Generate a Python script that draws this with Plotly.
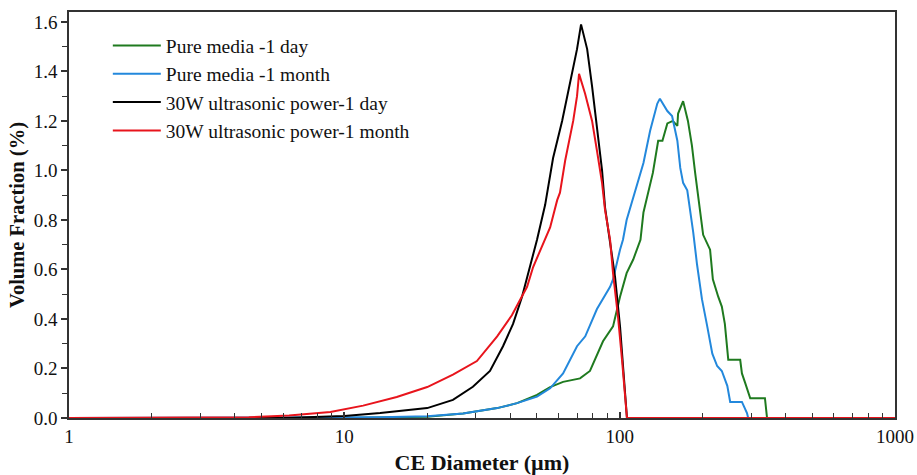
import plotly.graph_objects as go

# Particle size distributions (CE diameter in µm, volume fraction in %)
pure_day_d = [1, 10, 20, 27, 35.9, 42.4, 50.1, 55.9, 62.3, 71.8, 78, 87, 94.6, 100.3,
              106, 112, 119, 122, 132, 138, 143, 149, 156, 162, 163, 170, 177, 183,
              188, 193, 201, 213, 218, 228, 235, 241, 248, 274, 278, 286, 298, 337,
              343, 1000]
pure_day_v = [0, 0, 0.005, 0.018, 0.04, 0.06, 0.093, 0.125, 0.146, 0.16, 0.19, 0.31, 0.37, 0.49,
              0.585, 0.64, 0.72, 0.83, 0.99, 1.12, 1.12, 1.19, 1.20, 1.18, 1.23, 1.28, 1.20, 1.10,
              0.99, 0.89, 0.74, 0.68, 0.56, 0.49, 0.45, 0.38, 0.235, 0.235, 0.18, 0.14, 0.08, 0.08,
              0, 0]

pure_month_d = [1, 10, 13.5, 20, 27, 35.9, 42.4, 50.1, 55.9, 62.3, 70, 75, 80, 82.7, 92.3,
                94.6, 100.3, 102.8, 106, 112, 122, 129, 137, 140, 149, 155, 162, 166, 170,
                176, 180, 185, 191, 199, 208, 217, 226, 235, 246, 252, 278, 290, 293, 1000]
pure_month_v = [0, 0, 0.003, 0.007, 0.018, 0.04, 0.06, 0.086, 0.12, 0.18, 0.29, 0.33, 0.40, 0.44, 0.53,
                0.56, 0.68, 0.72, 0.80, 0.89, 1.03, 1.16, 1.27, 1.29, 1.24, 1.22, 1.12, 1.01, 0.95,
                0.92, 0.85, 0.75, 0.62, 0.48, 0.37, 0.26, 0.21, 0.19, 0.13, 0.065, 0.065, 0.02, 0, 0]

us_day_d = [1, 6.0, 10, 13.5, 20, 24.8, 29.3, 33.8, 37.7, 41.0, 44.2, 47.3, 50.1, 53.6, 57.3,
            61.8, 66.1, 70.0, 72.4, 76.2, 79.4, 82.7, 86.3, 88.5, 96.2, 100.3, 102.8, 106.3, 1000]
us_day_v = [0, 0, 0.008, 0.02, 0.04, 0.073, 0.126, 0.19, 0.29, 0.38, 0.49, 0.61, 0.72, 0.86, 1.05,
            1.20, 1.35, 1.49, 1.59, 1.49, 1.34, 1.18, 1.0, 0.85, 0.57, 0.37, 0.21, 0, 0]

us_month_d = [1, 4.5, 6.3, 8.9, 11.7, 15.5, 20.0, 24.8, 30.3, 35.9, 40.6, 43.5, 46.1, 48.5,
              52.7, 55.9, 59.3, 60.7, 63.4, 67.8, 70.0, 71.2, 74.9, 79.4, 82.7, 86.3, 88.5,
              92.3, 94.6, 98.6, 102.0, 104.6, 106.3, 1000]
us_month_v = [0, 0.003, 0.01, 0.024, 0.05, 0.085, 0.125, 0.175, 0.23, 0.33, 0.415, 0.475, 0.53, 0.61,
              0.70, 0.77, 0.88, 0.91, 1.04, 1.20, 1.30, 1.39, 1.31, 1.20, 1.08, 0.95, 0.84,
              0.72, 0.585, 0.41, 0.235, 0.07, 0, 0]

series = [
    ("Pure media -1 day", pure_day_d, pure_day_v, "#1f7a1f"),
    ("Pure media -1 month", pure_month_d, pure_month_v, "#2388dc"),
    ("30W ultrasonic power-1 day", us_day_d, us_day_v, "#000000"),
    ("30W ultrasonic power-1 month", us_month_d, us_month_v, "#e8141c"),
]

x_ticks = [1, 10, 100, 1000]
y_ticks = [0.0, 0.2, 0.4, 0.6, 0.8, 1.0, 1.2, 1.4, 1.6]

SERIF = "Liberation Serif, Times New Roman, serif"

fig = go.Figure()
for name, d, v, color in series:
    fig.add_trace(go.Scatter(x=d, y=v, mode="lines", name=name,
                             line=dict(color=color, width=2)))

fig.update_layout(
    width=917, height=475,
    margin=dict(l=69, r=22, t=12, b=57),
    paper_bgcolor="white", plot_bgcolor="white",
    font=dict(family=SERIF, size=18, color="#111"),
    showlegend=True,
    legend=dict(x=0.047, y=0.965, xanchor="left", yanchor="top",
                bgcolor="rgba(0,0,0,0)", font=dict(family=SERIF, size=19.5, color="#111"),
                itemwidth=48, tracegroupgap=0),
)

fig.update_xaxes(
    type="log", range=[0, 3], automargin=False,
    tickvals=x_ticks, ticktext=[str(t) for t in x_ticks],
    ticks="inside", ticklen=6, tickcolor="#333", tickwidth=1.5,
    minor=dict(ticks="inside", ticklen=5, tickcolor="#333", tickwidth=1.2,
               tickvals=[m * 10 ** k for k in range(3) for m in range(2, 10)]),
    showline=True, linecolor="#333", linewidth=1.5, mirror=True,
    showgrid=False, zeroline=False,
    tickfont=dict(family=SERIF, size=19),
    title=dict(text="<b>CE Diameter (µm)</b>", font=dict(family=SERIF, size=22), standoff=10),
)

fig.update_yaxes(
    range=[0, 1.64], automargin=False,
    tickvals=y_ticks, ticktext=[f"{t:.1f}" for t in y_ticks],
    ticks="outside", ticklen=6, tickcolor="#333", tickwidth=1.5,
    minor=dict(ticks="outside", ticklen=5, tickcolor="#333", tickwidth=1.2, dtick=0.1),
    showline=True, linecolor="#333", linewidth=1.5, mirror=True,
    showgrid=False, zeroline=False,
    tickfont=dict(family=SERIF, size=19),
    title=dict(text="<b>Volume Fraction (%)</b>", font=dict(family=SERIF, size=20.5), standoff=4),
)

fig.write_html("out.html")
